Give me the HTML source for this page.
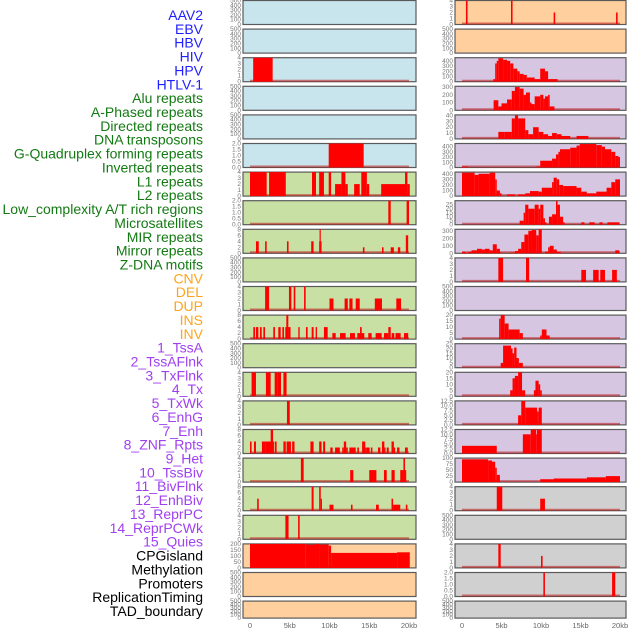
<!DOCTYPE html>
<html><head><meta charset="utf-8"><style>
body{margin:0;background:#fff;width:630px;height:630px;overflow:hidden;font-family:"Liberation Sans",sans-serif}
svg{display:block}
</style></head><body>
<svg id="chart" width="630" height="630"></svg>
<script>
const labels=["AAV2","EBV","HBV","HIV","HPV","HTLV-1","Alu repeats","A-Phased repeats","Directed repeats","DNA transposons","G-Quadruplex forming repeats","Inverted repeats","L1 repeats","L2 repeats","Low_complexity A/T rich regions","Microsatellites","MIR repeats","Mirror repeats","Z-DNA motifs","CNV","DEL","DUP","INS","INV","1_TssA","2_TssAFlnk","3_TxFlnk","4_Tx","5_TxWk","6_EnhG","7_Enh","8_ZNF_Rpts","9_Het","10_TssBiv","11_BivFlnk","12_EnhBiv","13_ReprPC","14_ReprPCWk","15_Quies","CPGisland","Methylation","Promoters","ReplicationTiming","TAD_boundary"];
const labelGroups=[6,13,5,15,5];
const groupColors=["#1f1fff","#137a13","#ffa41c","#a040f0","#000000"];
const xTicks=[0,5,10,15,20];
const xTickLabels=["0","5kb","10kb","15kb","20kb"];
const E=[0,100,200,300,400,500];
// left column: segments [startKb,endKb,value]
const leftSeries=[[],[],[[0.4,2.85,4]],[],[],[[9.9,14.3,2]],
[[0,2.1,4],[2.4,4.5,4],[7.8,8.3,4],[8.7,9.3,4],[9.9,10.2,4],[10.7,11.5,2],[11.5,12.0,4],[12.0,12.3,2],[13.1,13.8,2],[14.0,14.7,4],[14.7,15.0,2],[16.5,19.5,2],[19.5,19.8,4],[19.8,20.1,2]],
[[17.4,17.7,2],[19.7,20.0,2]],
[[0.75,1.1,4],[1.9,2.1,4],[4.65,4.85,4],[7.7,8.0,4],[8.7,9.0,4],[8.75,8.9,8],[14.2,14.4,2],[16.6,16.8,2],[17.7,18.1,2],[18.6,18.9,2],[19.6,19.9,6]],
[],
[[1.9,2.4,4],[4.9,5.2,4],[5.5,5.7,4],[6.8,7.0,4],[10.0,10.5,2],[11.9,12.3,2],[12.5,12.9,2],[13.3,13.8,2],[15.7,16.6,2],[18.4,19.0,2]],
[[0.42,0.63,4],[0.75,1.05,4],[1.26,1.47,4],[1.68,1.89,4],[2.93,3.14,4],[3.56,3.86,4],[4.07,4.28,4],[4.44,4.9,4],[4.57,4.82,8],[4.9,5.1,4],[6.08,6.25,4],[7.04,7.25,4],[7.76,8.0,4],[8.26,8.43,4],[9.3,9.77,4],[10.36,10.78,2],[11.32,12.03,2],[12.58,13.2,2],[13.5,14.38,2],[13.84,14.05,4],[14.88,15.3,2],[15.8,16.56,2],[16.85,17.4,2],[17.4,17.7,4],[17.82,18.15,2],[18.3,18.95,2],[19.37,19.9,2]],
[],
[[0.2,0.75,4],[2.0,2.6,4],[3.1,3.5,4],[3.5,3.9,4],[4.2,4.6,4]],
[[4.65,5.0,4]],
[[0,0.2,4],[0.5,0.75,4],[1.5,1.9,4],[1.9,2.7,4],[2.6,2.9,8],[2.9,3.0,4],[3.15,3.35,4],[4.2,4.5,4],[4.6,5.15,4],[5.3,5.6,4],[7.6,8.0,4],[8.7,9.0,4],[9.2,9.45,4],[10.1,10.4,2],[10.7,11.3,2],[11.6,11.8,2],[11.8,12.1,4],[12.1,12.3,2],[12.5,13.3,2],[13.5,13.7,2],[14.1,14.5,4],[14.5,14.7,2],[14.7,15.05,2],[15.2,15.4,2],[16.1,16.4,2],[16.6,16.9,4],[16.9,17.0,2],[17.2,17.45,2],[17.8,18.1,4],[18.1,18.25,2],[18.5,18.8,2],[19.5,19.85,2]],
[[6.4,6.75,4],[12.6,13.0,2],[15.0,15.9,2],[16.85,17.2,2],[17.8,18.2,2],[18.9,19.3,2],[19.3,19.5,4],[19.5,19.6,2]],
[[0.9,1.1,4],[7.75,8.0,8],[8.7,8.9,8],[8.9,9.0,4],[10.0,10.5,2],[12.7,12.9,2],[15.85,16.2,2],[17.8,18.0,4],[18.0,18.9,2],[19.6,19.8,2]],
[[4.45,4.85,4],[6.05,6.25,4]],
[[0,7.0,200],[7.0,8.3,195],[8.3,8.8,200],[8.8,9.9,195],[9.9,10.2,185],[10.2,18.5,125],[18.5,20.1,130]],
[],[]];
const leftMax=[500,500,4,500,500,2,4,2,8,500,4,8,500,4,4,8,4,8,4,200,500,500];
const leftTicks=[E,E,[0,1,2,3,4],E,E,[0,0.5,1,1.5,2],[0,1,2,3,4],[0,0.5,1,1.5,2],[0,2,4,6,8],E,[0,1,2,3,4],[0,2,4,6,8],E,[0,1,2,3,4],[0,1,2,3,4],[0,2,4,6,8],[0,1,2,3,4],[0,2,4,6,8],[0,1,2,3,4],[0,50,100,150,200],E,E];
const leftBg=["#c8e4ec","#c8e4ec","#c8e4ec","#c8e4ec","#c8e4ec","#c8e4ec","#c8e0a4","#c8e0a4","#c8e0a4","#c8e0a4","#c8e0a4","#c8e0a4","#c8e0a4","#c8e0a4","#c8e0a4","#c8e0a4","#c8e0a4","#c8e0a4","#c8e0a4","#ffd09e","#ffd09e","#ffd09e"];
const rightSeries=[
[[0.5,0.7,4],[6.2,6.4,4],[11.6,11.8,2],[19.5,19.7,2]],
[],
[[3.97,4.2,50],[4.2,4.4,350],[4.4,4.6,400],[4.6,5.2,450],[5.2,5.7,420],[5.7,6.1,400],[6.1,6.5,350],[6.5,7.0,250],[7.0,7.3,200],[7.3,7.8,150],[7.8,8.2,130],[8.2,9.2,80],[9.2,9.9,50],[9.9,10.5,250],[10.5,10.9,200],[10.9,12.1,50]],
[[4.0,4.6,130],[4.6,5.0,50],[5.0,5.7,90],[5.7,6.3,140],[6.3,6.7,250],[6.7,7.3,300],[7.3,7.8,280],[7.8,8.1,200],[8.1,8.6,230],[8.6,8.8,100],[8.8,9.2,80],[9.2,9.9,180],[9.9,10.3,200],[10.3,10.5,150],[10.5,10.9,180],[10.9,11.1,200],[11.1,11.7,50]],
[[4.6,5.4,12],[5.4,6.3,12],[6.3,6.7,35],[6.7,7.1,40],[7.1,8.0,35],[8.0,8.4,15],[8.4,9.0,8],[9.0,9.7,20],[9.7,10.3,12],[10.3,10.9,8],[10.9,11.4,5],[11.4,12.0,10],[12.0,12.6,8],[12.6,13.7,5],[14.5,16.0,5]],
[[0,0.8,20],[9.4,9.9,20],[9.9,11.4,130],[11.4,11.9,170],[11.9,12.2,250],[12.2,12.4,300],[12.4,13.7,350],[13.7,14.5,380],[14.5,14.9,420],[14.9,17.0,450],[17.0,17.7,430],[17.7,18.1,400],[18.1,18.9,350],[18.9,19.4,300],[19.4,19.8,220],[19.8,20,200]],
[[0,1.6,420],[1.6,2.1,380],[2.1,3.5,400],[3.5,4.2,420],[4.2,4.4,300],[4.4,4.8,100],[4.8,5.0,50],[5.7,6.7,30],[7.1,8.0,30],[8.0,8.6,50],[8.6,9.7,90],[9.7,10.1,80],[10.1,11.4,150],[11.4,11.6,250],[11.6,12.0,330],[12.0,12.3,300],[12.3,12.8,200],[12.8,14.5,180],[14.5,15.1,150],[15.1,15.8,80],[15.8,17.0,50],[17.0,18.3,80],[18.3,18.9,150],[18.9,19.4,250],[19.4,20,300]],
[[7.3,7.8,5],[7.8,8.0,15],[8.0,8.4,25],[8.4,9.2,20],[9.2,9.7,25],[9.7,9.9,20],[9.9,10.3,25],[10.3,10.5,8],[10.5,10.7,3],[11.0,11.4,10],[11.4,11.9,13],[11.9,12.1,30],[12.1,12.4,25],[12.4,12.8,10],[12.8,13.0,3],[15.1,15.5,3],[16.1,16.8,3],[17.4,17.8,3],[18.4,19.9,3]],
[[0,0.4,20],[0.4,0.8,10],[0.8,1.2,20],[1.2,1.9,40],[1.9,2.5,60],[2.5,2.9,50],[2.9,3.5,60],[3.5,3.9,40],[3.9,4.4,120],[4.4,4.8,60],[4.8,5.1,10],[6.1,6.7,10],[6.7,7.1,30],[7.1,7.5,60],[7.5,7.9,150],[7.9,8.4,250],[8.4,8.8,300],[8.8,9.4,310],[9.4,9.7,240],[9.7,10.1,320],[10.5,10.9,20],[10.9,11.1,80],[11.1,11.6,100],[11.6,12.0,50],[12.0,12.5,20],[19.4,19.9,40]],
[[4.6,5.2,4],[8.1,8.5,4],[15.1,15.7,2],[16.6,17.3,2],[17.5,18.1,2],[19.0,19.6,2]],
[],
[[4.7,4.9,17],[4.9,5.4,20],[5.4,5.9,13],[5.9,7.3,8],[7.3,7.7,5],[9.9,10.1,3],[10.1,10.7,8],[10.7,11.1,3]],
[[4.9,5.2,5],[5.2,6.2,23],[6.2,6.4,20],[6.4,6.6,15],[6.6,6.9,21],[6.9,7.2,10],[7.2,7.7,5]],
[[6.1,6.4,5],[6.4,6.7,15],[6.7,7.1,17],[7.1,7.6,20],[7.6,8.0,5],[9.1,9.3,5],[9.3,9.7,13],[9.7,9.9,10],[9.9,10.1,5]],
[[7.1,7.5,5],[7.5,8.0,12.5],[8.0,9.5,9],[9.5,9.7,7],[9.7,10.1,9]],
[[0,4.4,4],[7.7,8.7,10],[8.7,9.4,12.5],[9.4,9.5,10],[9.5,10.1,12.5]],
[[0,3.3,95],[3.3,3.8,90],[3.8,4.2,85],[4.2,4.4,60],[4.4,4.8,30],[9.9,11.6,12],[11.6,15.8,15],[15.8,18.2,20],[18.2,20,25]],
[[4.4,5.1,4],[9.9,10.5,2]],
[],
[[4.6,4.9,4],[10.0,10.2,2]],
[[10.3,10.5,2],[19.0,19.4,2]],
[]];
const rightMax=[4,500,460,310,41,460,430,30,320,4,500,20,25,20,12.5,12.5,100,4,500,4,2,500];
const rightTicks=[[0,1,2,3,4],E,[0,100,200,300,400],[0,100,200,300],[0,10,20,30,40],[0,100,200,300,400],[0,100,200,300,400],[0,5,10,15,20,25],[0,100,200,300],[0,1,2,3,4],E,[0,5,10,15,20],[0,5,10,15,20,25],[0,5,10,15,20],[0,2.5,5,7.5,10,12.5],[0,2.5,5,7.5,10,12.5],[0,25,50,75,100],[0,1,2,3,4],E,[0,1,2,3,4],[0,0.5,1,1.5,2],E];
const rightBg=["#ffd09e","#ffd09e","#d6c6e2","#d6c6e2","#d6c6e2","#d6c6e2","#d6c6e2","#d6c6e2","#d6c6e2","#d6c6e2","#d6c6e2","#d6c6e2","#d6c6e2","#d6c6e2","#d6c6e2","#d6c6e2","#d6c6e2","#d0d0d0","#d0d0d0","#d0d0d0","#d0d0d0","#d0d0d0"];

const NS="http://www.w3.org/2000/svg";
const svg=document.getElementById('chart');
function mk(tag,attrs,parent){const e=document.createElementNS(NS,tag);for(const k in attrs)e.setAttribute(k,attrs[k]);(parent||svg).appendChild(e);return e;}
const rowTop=i=>0.5+i*28.6;
const rowH=i=>i===21?17:24;
const cols=[{x0:243,x1:416,z:250,p:7.95,series:leftSeries,max:leftMax,ticks:leftTicks,bg:leftBg,name:'left'},
            {x0:455,x1:626,z:462,p:7.9,series:rightSeries,max:rightMax,ticks:rightTicks,bg:rightBg,name:'right'}];
function fmt(t,ticks){const dec=ticks.some(v=>v%1!==0);if(!dec)return String(t);return ticks.some(v=>(v*10)%5!==0||v===2.5)?t.toFixed(1):t.toFixed(1);}
cols.forEach(c=>{
  const xs=kb=>c.z+kb*c.p;
  for(let i=0;i<22;i++){
    const top=rowTop(i),h=rowH(i),bot=top+h;
    const ys=v=>bot-(v/c.max[i])*h;
    const g=mk('g',{});
    
    
    mk('rect',{x:c.x0,y:top,width:c.x1-c.x0,height:h,fill:c.bg[i],stroke:'#5a5a5a','stroke-width':1.2},g);
    c.ticks[i].forEach(t=>{
      const tx=mk('text',{x:c.x0-2,y:ys(t)+2,'text-anchor':'end','font-size':6.5,fill:'#777'},g);
      tx.textContent=fmt(t,c.ticks[i]);
      
      
    });
    if(c.series[i].length){
      const bl=mk('line',{x1:xs(0),x2:xs(20),y1:bot-1,y2:bot-1,stroke:'rgba(190,20,20,0.55)','stroke-width':2},g);
      
      
    }
    c.series[i].forEach(s=>{
      const y=ys(Math.min(s[2],c.max[i]));
      const r=mk('rect',{x:xs(s[0]),y:y,width:Math.max(1.2,xs(s[1])-xs(s[0])),height:bot-y,fill:'#ff0000'},g);
      
      
    });
  }
  xTicks.forEach((t,k)=>{
    const tx=mk('text',{x:xs(t),y:628,'text-anchor':'middle','font-size':7.5,fill:'#666'});
    tx.textContent=xTickLabels[k];
    
    
  });
});
let gi=0,cnt=0;
labels.forEach((l,i)=>{
  while(cnt>=labelGroups[gi]){cnt=0;gi++;}
  cnt++;
  const tx=mk('text',{x:203,y:15+i*13.86+5,'text-anchor':'end','font-size':14,fill:groupColors[gi]});
  tx.textContent=l;
  
  
});
</script>
</body></html>
